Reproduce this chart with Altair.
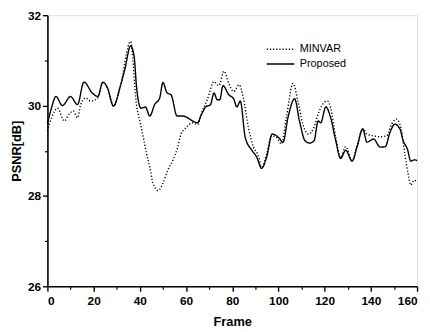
import altair as alt
import pandas as pd

prop_frame = [0, 1.5, 3.7, 6.5, 10, 13, 15.8, 19.4, 21.8, 24, 26, 28.6, 31.5, 33.5, 36, 37.5, 38.6, 40.5,
              42.4, 44.3, 46.4, 48.6, 50, 51.8, 53.5, 56.1, 58.5, 60.7, 62.8, 65, 66.4, 68.5, 70.6,
              72.1, 73.5, 74.6, 76, 78.5, 80.6, 82, 83.5, 85.6, 88.5, 90.6, 92.7, 94.9, 97.3, 99.9,
              102, 104.1, 107, 109.1, 111.5, 113.4, 115.4, 117.2, 118.3, 120.5, 122.6, 124.8, 126.9,
              129.1, 131.9, 134, 136.5, 138.3, 141.2, 144, 146.2, 148.3, 150.4, 152.6, 154, 155.8,
              157.3, 159, 160]
prop_psnr = [29.6, 29.9, 30.2, 30.0, 30.2, 30.02, 30.52, 30.28, 30.2, 30.52, 30.39, 29.99, 30.42, 30.8,
             31.32, 31.1, 30.4, 29.94, 29.97, 29.77, 30.02, 30.17, 30.51, 30.28, 30.24, 29.77, 29.77,
             29.73, 29.66, 29.62, 29.77, 29.97, 30.02, 30.28, 30.13, 30.13, 30.44, 30.24, 30.15, 29.97,
             30.10, 29.30, 29.01, 28.86, 28.61, 28.86, 29.37, 29.30, 29.19, 29.73, 30.15, 29.66, 29.22,
             29.17, 29.22, 29.66, 29.62, 29.97, 29.73, 29.22, 28.83, 29.01, 28.77, 29.08, 29.48, 29.19,
             29.26, 29.08, 29.09, 29.41, 29.59, 29.48, 29.22, 29.04, 28.77, 28.80, 28.78]

minv_frame = [0, 1.8, 4.4, 7.3, 9.4, 11.2, 13, 14.4, 16.5, 18.7, 21.5, 24, 26, 28.6, 31.5, 36, 38.6, 40,
              41.5, 42.9, 44.3, 45.7, 47.9, 50, 52.1, 54.3, 56.4, 57.8, 60, 62.8, 65, 67, 69.2, 72.1,
              74.2, 76.4, 78.5, 80.6, 83, 84.8, 87, 89.2, 91.3, 92.7, 94.9, 97, 99, 101.3, 103.4,
              106.3, 108.4, 110.6, 113, 115.3, 117.2, 119, 121.2, 122.6, 124.8, 126.9, 129.1, 131.9,
              134, 136.5, 138.3, 141.2, 144, 146.9, 149, 151.1, 153, 154.7, 156.1, 157.3, 158.7, 160]
minv_psnr = [29.44, 29.73, 29.94, 29.66, 29.81, 29.88, 29.73, 30.02, 30.17, 30.1, 30.15, 30.5, 30.39,
             29.99, 30.42, 31.42, 30.0, 29.66, 29.30, 28.93, 28.64, 28.28, 28.12, 28.28, 28.57, 28.79,
             29.08, 29.37, 29.51, 29.62, 29.58, 29.88, 30.13, 30.53, 30.44, 30.76, 30.49, 30.31, 30.46,
             30.17, 29.51, 29.08, 28.89, 28.64, 28.93, 29.33, 29.30, 29.15, 29.73, 30.49, 30.10, 29.58,
             29.37, 29.51, 29.81, 30.02, 30.10, 29.95, 29.30, 28.85, 29.09, 28.78, 29.11, 29.49, 29.37,
             29.33, 29.31, 29.33, 29.59, 29.70, 29.51, 28.93, 28.50, 28.24, 28.35, 28.3]

series_names = ["MINVAR", "Proposed"]
x_major = [0, 20, 40, 60, 80, 100, 120, 140, 160]
x_minor = [10, 30, 50, 70, 90, 110, 130, 150]
y_major = [26, 28, 30, 32]
y_minor = [27, 29, 31]

df = pd.concat([
    pd.DataFrame({"Frame": minv_frame, "PSNR": minv_psnr, "Method": "MINVAR"}),
    pd.DataFrame({"Frame": prop_frame, "PSNR": prop_psnr, "Method": "Proposed"}),
])

FONT = "Liberation Sans"
xs = alt.Scale(domain=[0, 160], nice=False, zero=False)
ys = alt.Scale(domain=[26, 32], nice=False, zero=False)

leg = dict(title=None, orient="none", legendX=231, legendY=29,
           symbolType="M-3,0H3", symbolSize=87, symbolStrokeWidth=1.4,
           labelFont=FONT, labelFontSize=11, labelColor="black",
           labelOffset=14, rowPadding=3)

lines = alt.Chart(df).mark_line(interpolate="monotone", strokeWidth=1.4).encode(
    x=alt.X("Frame:Q", scale=xs,
            axis=alt.Axis(values=x_major, title="Frame", orient="bottom", tickSize=5,
                          labelFont=FONT, labelFontSize=12, labelFontWeight="bold",
                          titleFont=FONT, titleFontSize=13, titleFontWeight="bold",
                          titlePadding=10, labelPadding=4, grid=False,
                          domainColor="black", tickColor="black", domainWidth=1.6, tickWidth=1.4,
                          labelColor="black", titleColor="black")),
    y=alt.Y("PSNR:Q", scale=ys,
            axis=alt.Axis(values=y_major, title="PSNR[dB]", orient="left", tickSize=5,
                          labelFont=FONT, labelFontSize=12, labelFontWeight="bold",
                          titleFont=FONT, titleFontSize=13, titleFontWeight="bold",
                          titlePadding=4, labelPadding=2, grid=False,
                          domainColor="black", tickColor="black", domainWidth=1.6, tickWidth=1.4,
                          labelColor="black", titleColor="black")),
    color=alt.Color("Method:N", scale=alt.Scale(domain=series_names, range=["black", "black"]),
                    legend=alt.Legend(**leg)),
    strokeDash=alt.StrokeDash("Method:N",
                              scale=alt.Scale(domain=series_names, range=[[1.2, 2], [1, 0]]),
                              legend=alt.Legend(**leg)),
)

minor = alt.Chart(df).mark_point(opacity=0).encode(
    x=alt.X("Frame:Q", scale=xs,
            axis=alt.Axis(values=x_minor, labels=False, title=None, orient="bottom", tickSize=3,
                          domain=False, grid=False, tickColor="black", tickWidth=1.2)),
    y=alt.Y("PSNR:Q", scale=ys,
            axis=alt.Axis(values=y_minor, labels=False, title=None, orient="left", tickSize=3,
                          domain=False, grid=False, tickColor="black", tickWidth=1.2)),
)

chart = alt.layer(lines, minor).resolve_axis(x="independent", y="independent").properties(
    width=375, height=275,
    autosize=alt.AutoSizeParams(type="none"),
    padding={"left": 40, "top": 5, "right": 5, "bottom": 40},
).configure_view(stroke=None).configure(background="white")

chart.save("out.html", embed_options={"renderer": "svg", "actions": False})
